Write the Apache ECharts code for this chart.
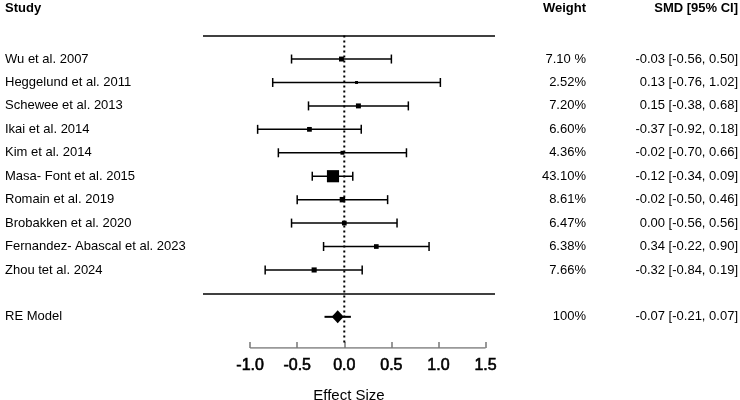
<!DOCTYPE html>
<html>
<head>
<meta charset="utf-8">
<script src="https://cdn.jsdelivr.net/npm/echarts@6/dist/echarts.min.js"></script>
<style>
  html, body { margin: 0; padding: 0; background: #fff; }
  #chart { width: 740px; height: 400px; }
</style>
</head>
<body>
<div id="chart"></div>
<script>
// 研究名单与效应量
const studies = ['Wu et al. 2007', 'Heggelund et al. 2011', 'Schewee et al. 2013', 'Ikai et al. 2014',
  'Kim et al. 2014', 'Masa- Font et al. 2015', 'Romain et al. 2019', 'Brobakken et al. 2020',
  'Fernandez- Abascal et al. 2023', 'Zhou tet al. 2024'];
const weights = [7.10, 2.52, 7.20, 6.60, 4.36, 43.10, 8.61, 6.47, 6.38, 7.66];
const weightLabels = ['7.10 %', '2.52%', '7.20%', '6.60%', '4.36%', '43.10%', '8.61%', '6.47%', '6.38%', '7.66%'];
const smd = [-0.03, 0.13, 0.15, -0.37, -0.02, -0.12, -0.02, 0.00, 0.34, -0.32];
const lower = [-0.56, -0.76, -0.38, -0.92, -0.70, -0.34, -0.50, -0.56, -0.22, -0.84];
const upper = [0.50, 1.02, 0.68, 0.18, 0.66, 0.09, 0.46, 0.56, 0.90, 0.19];
// RE 模型汇总
const reModel = { name: 'RE Model', weight: '100%', est: -0.07, lo: -0.21, hi: 0.07 };
const xTicks = [-1.0, -0.5, 0.0, 0.5, 1.0, 1.5];

const reRow = studies.length + 1;
const axisRow = 12.33;
const font = 'Liberation Sans, Arial, sans-serif';

const ciData = studies.map((s, i) => [smd[i], lower[i], upper[i], i, weights[i]]);

function rowLabel(list, v) {
  if (v === reRow) return list === 'name' ? reModel.name : list === 'w' ? reModel.weight :
    reModel.est.toFixed(2) + ' [' + reModel.lo.toFixed(2) + ', ' + reModel.hi.toFixed(2) + ']';
  const i = Math.round(v);
  if (i < 0 || i >= studies.length) return '';
  if (list === 'name') return studies[i];
  if (list === 'w') return weightLabels[i];
  return smd[i].toFixed(2) + ' [' + lower[i].toFixed(2) + ', ' + upper[i].toFixed(2) + ']';
}

const rowValues = studies.map((s, i) => i).concat([reRow]);

function yAxisFor(list, position, margin, align) {
  return {
    type: 'value', inverse: true, min: -1, max: axisRow, position: position,
    axisLine: { show: false }, axisTick: { show: false }, splitLine: { show: false },
    axisLabel: {
      customValues: rowValues, margin: margin, align: align,
      color: '#000', fontSize: 13, fontFamily: font,
      formatter: v => rowLabel(list, v)
    }
  };
}

const chart = echarts.init(document.getElementById('chart'));

const option = {
  animation: false,
  backgroundColor: '#fff',
  grid: { left: 203, right: 245, top: 35.6, bottom: 52, containLabel: false, outerBoundsMode: 'none' },
  graphic: [
    { type: 'text', left: 5, top: 2, style: { text: 'Study', font: 'bold 13px ' + font, fill: '#000' } },
    { type: 'text', right: 154, top: 2, style: { text: 'Weight', font: 'bold 13px ' + font, fill: '#000' } },
    { type: 'text', right: 2, top: 2, style: { text: 'SMD [95% CI]', font: 'bold 13px ' + font, fill: '#000' } }
  ],
  xAxis: {
    type: 'value', min: -1.5, max: 1.6,
    name: 'Effect Size', nameLocation: 'middle', nameGap: 40,
    nameTextStyle: { fontSize: 15, fontFamily: font, color: '#000' },
    axisLine: { show: false, onZero: false },
    splitLine: { show: false },
    axisTick: { show: true, inside: true, length: 6, customValues: xTicks, lineStyle: { color: '#777', width: 1.5 } },
    axisLabel: { customValues: xTicks, margin: 10, fontSize: 16, fontFamily: font, color: '#000',
      textBorderColor: '#000', textBorderWidth: 0.6,
      formatter: v => v.toFixed(1) }
  },
  yAxis: [
    yAxisFor('name', 'left', 198, 'left'),
    yAxisFor('w', 'right', 91, 'right'),
    yAxisFor('smd', 'right', 243, 'right')
  ],
  series: [
    {
      // 上下分隔线
      type: 'line', data: [], silent: true,
      markLine: {
        symbol: 'none', silent: true, label: { show: false },
        lineStyle: { color: '#000', width: 1.5, type: 'solid' },
        data: [{ yAxis: -1 }, { yAxis: studies.length }]
      }
    },
    {
      // 横轴线 -1.0 ~ 1.5
      type: 'line', symbol: 'none', silent: true,
      lineStyle: { color: '#777', width: 1.5 },
      data: [[xTicks[0], axisRow], [xTicks[xTicks.length - 1], axisRow]]
    },
    {
      // 零效应虚线
      type: 'line', symbol: 'none', silent: true,
      lineStyle: { color: '#000', width: 2, type: [2, 3] },
      data: [[0, -1], [0, 12.1]]
    },
    {
      type: 'custom',
      data: ciData,
      renderItem: function (params, api) {
        const y = api.coord([0, api.value(3)])[1];
        const xe = api.coord([api.value(0), 0])[0];
        const xl = api.coord([api.value(1), 0])[0];
        const xh = api.coord([api.value(2), 0])[0];
        const s = 1.85 * Math.sqrt(api.value(4));
        const st = { stroke: '#000', lineWidth: 1.5 };
        return {
          type: 'group',
          children: [
            { type: 'line', shape: { x1: xl, y1: y, x2: xh, y2: y }, style: st },
            { type: 'line', shape: { x1: xl, y1: y - 4.5, x2: xl, y2: y + 4.5 }, style: st },
            { type: 'line', shape: { x1: xh, y1: y - 4.5, x2: xh, y2: y + 4.5 }, style: st },
            { type: 'rect', shape: { x: xe - s / 2, y: y - s / 2, width: s, height: s }, style: { fill: '#000' } }
          ]
        };
      }
    },
    {
      type: 'custom',
      data: [[reModel.est, reModel.lo, reModel.hi, reRow]],
      renderItem: function (params, api) {
        const y = api.coord([0, api.value(3)])[1];
        const xe = api.coord([api.value(0), 0])[0];
        const xl = api.coord([api.value(1), 0])[0];
        const xh = api.coord([api.value(2), 0])[0];
        return {
          type: 'group',
          children: [
            { type: 'line', shape: { x1: xl, y1: y, x2: xh, y2: y }, style: { stroke: '#000', lineWidth: 2 } },
            { type: 'polygon', shape: { points: [[xe - 6, y], [xe, y - 6.5], [xe + 6, y], [xe, y + 6.5]] },
              style: { fill: '#000' } }
          ]
        };
      }
    }
  ]
};

chart.setOption(option);
</script>
</body>
</html>
